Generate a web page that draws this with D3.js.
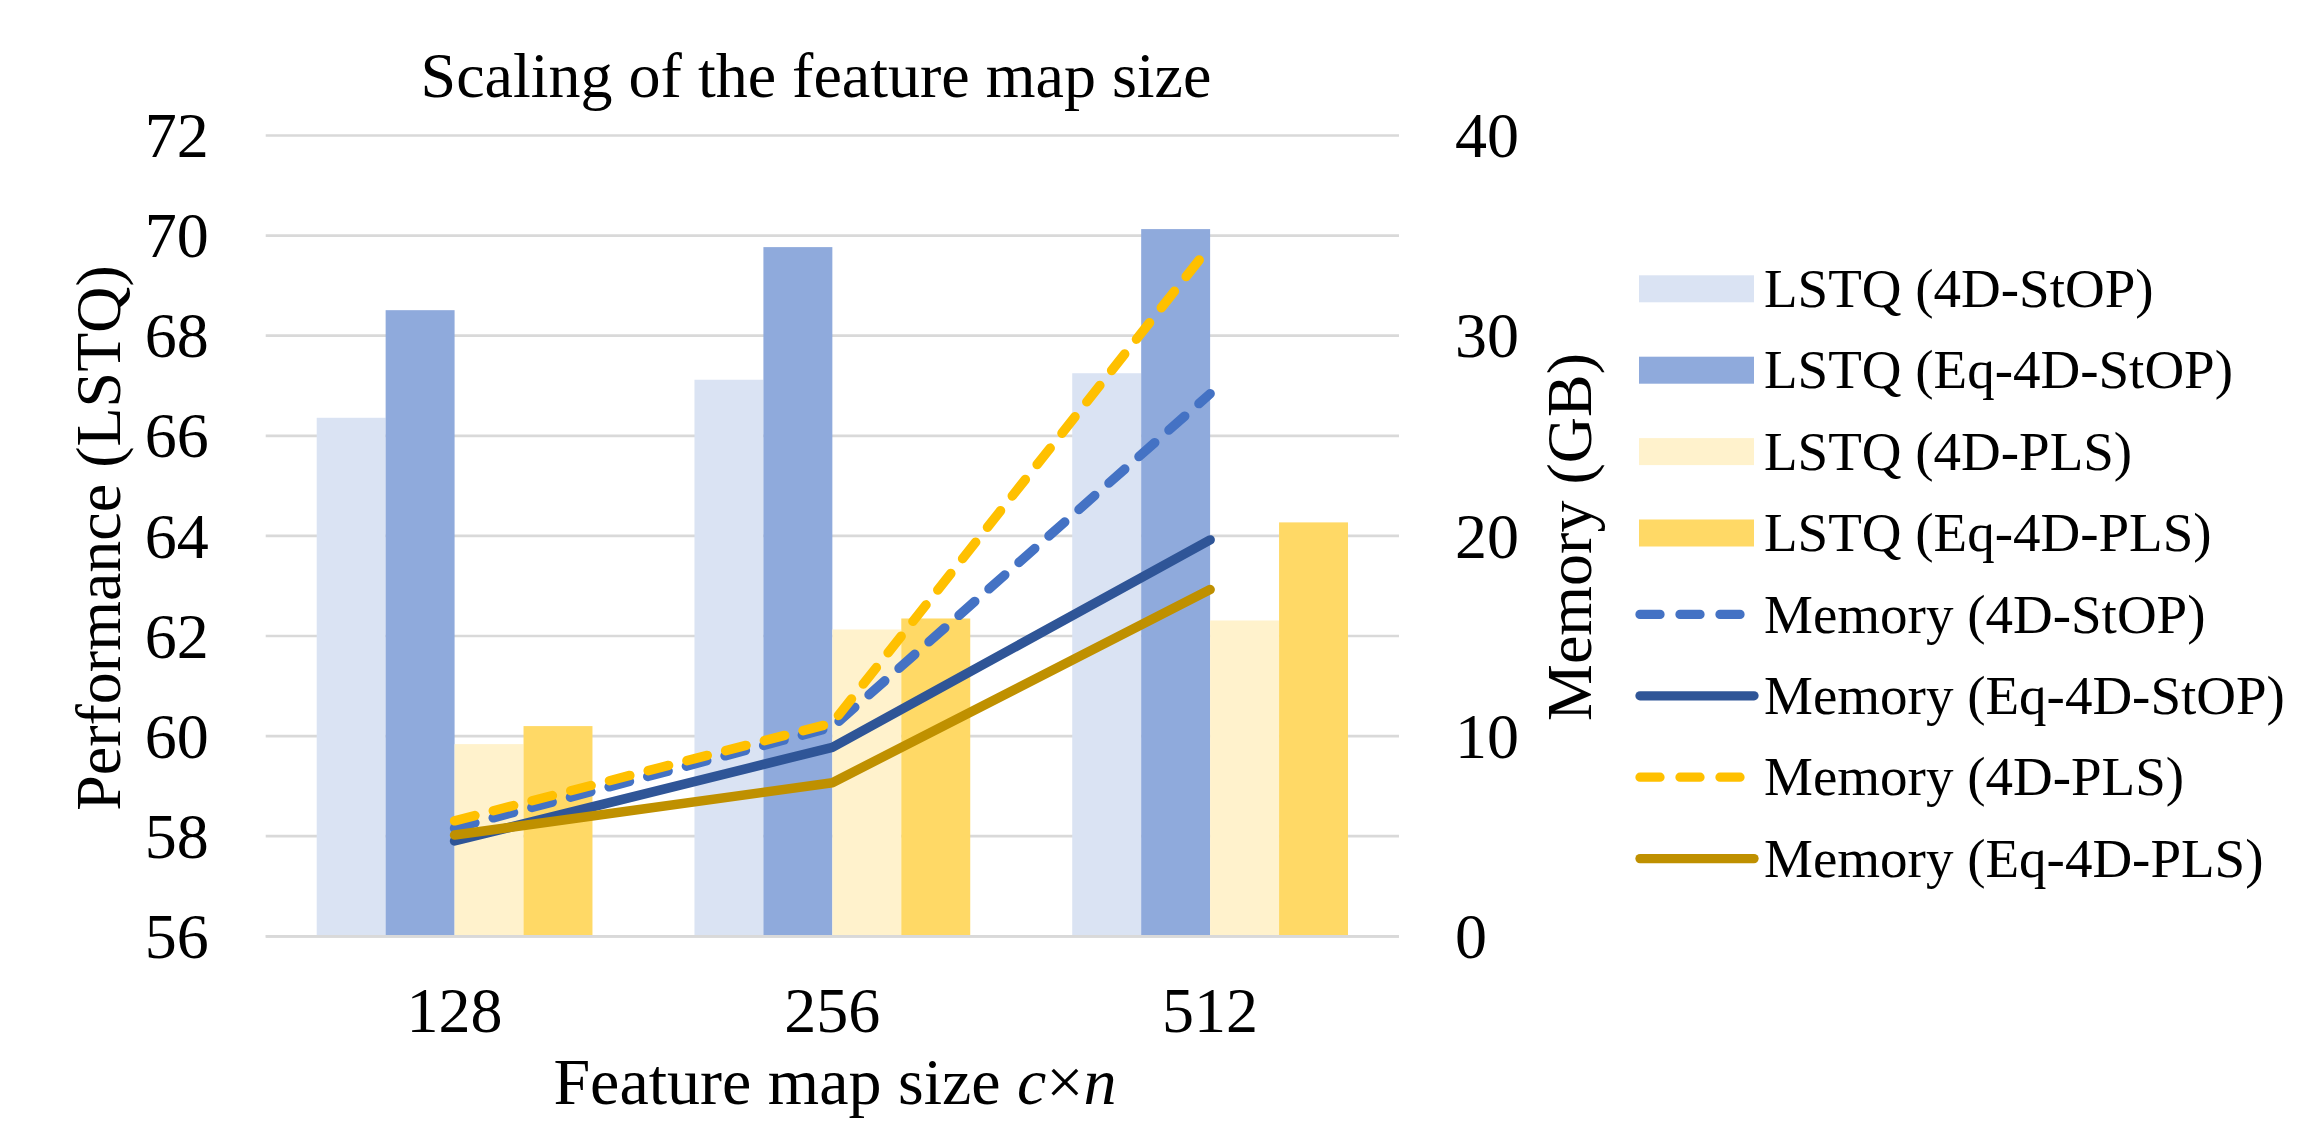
<!DOCTYPE html>
<html>
<head>
<meta charset="utf-8">
<script src="https://cdn.jsdelivr.net/npm/d3@7"></script>
<style>
  body { margin: 0; background: #fff; }
  text { font-family: "Liberation Serif", "Times New Roman", serif; fill: #000; }
</style>
</head>
<body>
<div id="wrapper"></div>
<script>
// data
const categories = ["128", "256", "512"]
const barSeries = ["LSTQ (4D-StOP)", "LSTQ (Eq-4D-StOP)", "LSTQ (4D-PLS)", "LSTQ (Eq-4D-PLS)"]
const lstq4dStop = [66.36, 67.12, 67.25]
const lstqEq4dStop = [68.51, 69.77, 70.13]
const lstq4dPls = [59.84, 62.13, 62.31]
const lstqEq4dPls = [60.2, 62.35, 64.27]

const lineSeries = ["Memory (4D-StOP)", "Memory (Eq-4D-StOP)", "Memory (4D-PLS)", "Memory (Eq-4D-PLS)"]
const mem4dStop = [5.4, 10.45, 27.1]
const memEq4dStop = [4.76, 9.44, 19.8]
const mem4dPls = [5.77, 10.65, 34.47]
const memEq4dPls = [5.06, 7.67, 17.32]

const leftTicks = [56, 58, 60, 62, 64, 66, 68, 70, 72]
const rightTicks = [0, 10, 20, 30, 40]

function drawChart() {

  // 1. dimensions
  let dimensions = {
    width: 2303,
    height: 1134,
    margin: { top: 135.5, right: 904, bottom: 197.7, left: 265.7 },
  }
  dimensions.boundedWidth = dimensions.width - dimensions.margin.left - dimensions.margin.right
  dimensions.boundedHeight = dimensions.height - dimensions.margin.top - dimensions.margin.bottom

  const barValues = [lstq4dStop, lstqEq4dStop, lstq4dPls, lstqEq4dPls]
  const barColors = ["#dae3f3", "#8faadc", "#fff2cc", "#ffd966"]
  const lineValues = [mem4dStop, memEq4dStop, mem4dPls, memEq4dPls]
  const lineColors = ["#4472c4", "#2f5597", "#ffc000", "#bf9000"]
  const lineDashed = [true, false, true, false]

  // 2. canvas
  const wrapper = d3.select("#wrapper")
    .append("svg")
    .attr("width", dimensions.width)
    .attr("height", dimensions.height)

  const bounds = wrapper.append("g")
    .attr("transform", `translate(${dimensions.margin.left},${dimensions.margin.top})`)

  // 3. scales
  const x0 = d3.scaleBand()
    .domain(categories)
    .range([0, dimensions.boundedWidth])
    .paddingInner(0.27)
    .paddingOuter(0.135)

  const x1 = d3.scaleBand()
    .domain(barSeries)
    .range([0, x0.bandwidth()])

  const yLeft = d3.scaleLinear()
    .domain([56, 72])
    .range([dimensions.boundedHeight, 0])

  const yRight = d3.scaleLinear()
    .domain([0, 40])
    .range([dimensions.boundedHeight, 0])

  // gridlines
  bounds.append("g")
    .selectAll("line")
    .data(leftTicks)
    .enter().append("line")
    .attr("x1", 0)
    .attr("x2", dimensions.boundedWidth)
    .attr("y1", d => yLeft(d))
    .attr("y2", d => yLeft(d))
    .attr("stroke", "#d9d9d9")
    .attr("stroke-width", 2.7)

  // 4. bars
  const groups = bounds.append("g")
    .selectAll("g")
    .data(categories)
    .enter().append("g")
    .attr("transform", d => `translate(${x0(d)},0)`)

  groups.selectAll("rect")
    .data((c, ci) => barSeries.map((s, si) => ({ s, si, v: barValues[si][ci] })))
    .enter().append("rect")
    .attr("x", d => x1(d.s))
    .attr("width", x1.bandwidth())
    .attr("y", d => yLeft(d.v))
    .attr("height", d => dimensions.boundedHeight - yLeft(d.v))
    .attr("fill", d => barColors[d.si])

  // axis line redrawn over bars
  bounds.append("line")
    .attr("x1", 0)
    .attr("x2", dimensions.boundedWidth)
    .attr("y1", dimensions.boundedHeight)
    .attr("y2", dimensions.boundedHeight)
    .attr("stroke", "#d9d9d9")
    .attr("stroke-width", 2.7)

  // 5. lines
  const lineGen = d3.line()
    .x((d, i) => x0(categories[i]) + x0.bandwidth() / 2)
    .y(d => yRight(d))

  lineValues.forEach((vals, i) => {
    bounds.append("path")
      .datum(vals)
      .attr("d", lineGen)
      .attr("fill", "none")
      .attr("stroke", lineColors[i])
      .attr("stroke-width", 9.5)
      .attr("stroke-linecap", "round")
      .attr("stroke-linejoin", "round")
      .attr("stroke-dasharray", lineDashed[i] ? "21 19" : null)
  })

  // 6. axes (text only, no domain / ticks)
  const yAxisLeft = d3.axisLeft(yLeft).tickValues(leftTicks).tickSize(0).tickPadding(57)
  const leftAxis = bounds.append("g").call(yAxisLeft)
  leftAxis.select(".domain").remove()
  leftAxis.selectAll("text")
    .attr("font-size", 64)
    .attr("font-family", "Liberation Serif")
    .attr("fill", "#000")
    .attr("dy", "0.33em")

  const yAxisRight = d3.axisRight(yRight).tickValues(rightTicks).tickSize(0).tickPadding(56)
  const rightAxis = bounds.append("g")
    .attr("transform", `translate(${dimensions.boundedWidth},0)`)
    .call(yAxisRight)
  rightAxis.select(".domain").remove()
  rightAxis.selectAll("text")
    .attr("font-size", 64)
    .attr("font-family", "Liberation Serif")
    .attr("fill", "#000")
    .attr("dy", "0.33em")

  const xAxis = d3.axisBottom(x0).tickSize(0).tickPadding(0)
  const bottomAxis = bounds.append("g")
    .attr("transform", `translate(0,${dimensions.boundedHeight})`)
    .call(xAxis)
  bottomAxis.select(".domain").remove()
  bottomAxis.selectAll("text")
    .attr("font-size", 64)
    .attr("font-family", "Liberation Serif")
    .attr("fill", "#000")
    .attr("y", 95.4)
    .attr("dy", 0)

  // titles
  wrapper.append("text")
    .attr("x", 816)
    .attr("y", 97.3)
    .attr("text-anchor", "middle")
    .attr("font-size", 64)
    .text("Scaling of the feature map size")

  const xTitle = wrapper.append("text")
    .attr("x", 835)
    .attr("y", 1104)
    .attr("text-anchor", "middle")
    .attr("font-size", 66)
  xTitle.append("tspan").text("Feature map size ")
  xTitle.append("tspan").attr("font-style", "italic").text("c")
  xTitle.append("tspan").text("×")
  xTitle.append("tspan").attr("font-style", "italic").text("n")

  wrapper.append("text")
    .attr("transform", "translate(120,538) rotate(-90)")
    .attr("text-anchor", "middle")
    .attr("font-size", 64)
    .text("Performance (LSTQ)")

  wrapper.append("text")
    .attr("transform", "translate(1591,537) rotate(-90)")
    .attr("text-anchor", "middle")
    .attr("font-size", 64)
    .text("Memory (GB)")

  // 7. legend
  const legendRows = d3.range(8).map(i => 288.8 + i * 81.4)
  const legend = wrapper.append("g")

  barSeries.forEach((name, i) => {
    legend.append("rect")
      .attr("x", 1639)
      .attr("y", legendRows[i] - 13.5)
      .attr("width", 115)
      .attr("height", 27)
      .attr("fill", barColors[i])
    legend.append("text")
      .attr("x", 1764)
      .attr("y", legendRows[i])
      .attr("dy", "0.33em")
      .attr("font-size", 55)
      .text(name)
  })

  lineSeries.forEach((name, i) => {
    const yy = legendRows[i + 4]
    legend.append("line")
      .attr("x1", 1640)
      .attr("x2", lineDashed[i] ? 1740 : 1754)
      .attr("y1", yy)
      .attr("y2", yy)
      .attr("stroke", lineColors[i])
      .attr("stroke-width", 9.3)
      .attr("stroke-linecap", "round")
      .attr("stroke-dasharray", lineDashed[i] ? "20 20" : null)
    legend.append("text")
      .attr("x", 1764)
      .attr("y", yy)
      .attr("dy", "0.33em")
      .attr("font-size", 55)
      .text(name)
  })
}
drawChart()
</script>
</body>
</html>
